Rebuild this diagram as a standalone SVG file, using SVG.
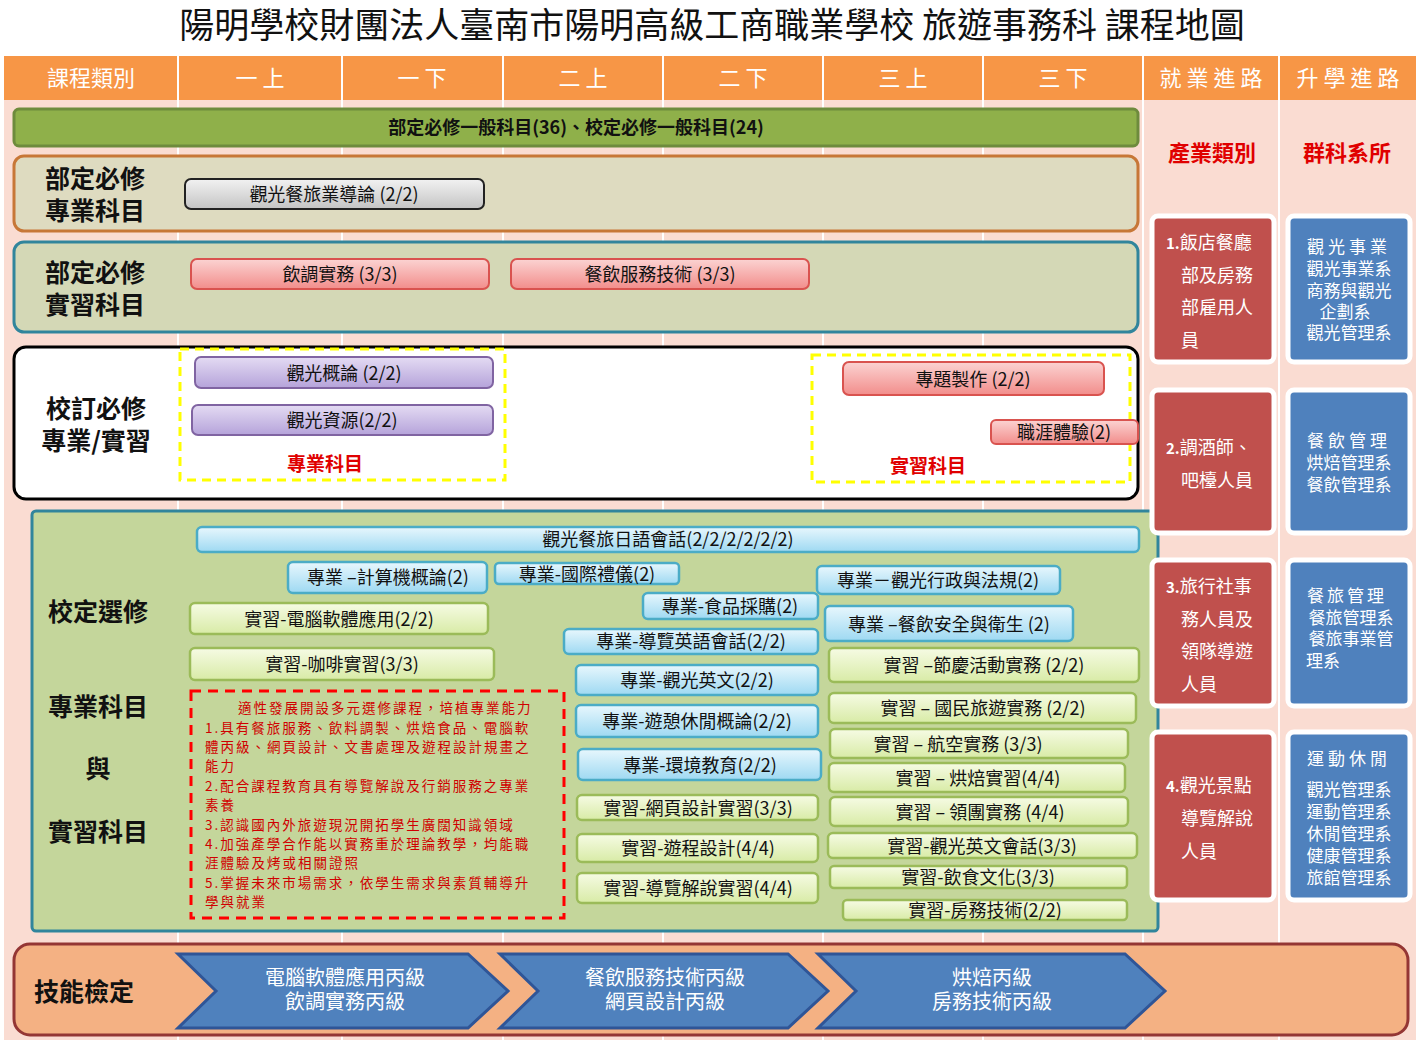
<svg xmlns="http://www.w3.org/2000/svg" width="1416" height="1040" viewBox="0 0 1416 1040">
<defs>
<linearGradient id="gBlue" x1="0" y1="0" x2="0" y2="1"><stop offset="0" stop-color="#E8F7FD"/><stop offset="1" stop-color="#9ED9F2"/></linearGradient>
<linearGradient id="gGreen" x1="0" y1="0" x2="0" y2="1"><stop offset="0" stop-color="#F6FBE4"/><stop offset="1" stop-color="#D8EBA6"/></linearGradient>
<linearGradient id="gRed" x1="0" y1="0" x2="0" y2="1"><stop offset="0" stop-color="#FBD3D2"/><stop offset="1" stop-color="#F28D8B"/></linearGradient>
<linearGradient id="gPur" x1="0" y1="0" x2="0" y2="1"><stop offset="0" stop-color="#E4DBF3"/><stop offset="1" stop-color="#B5A3DA"/></linearGradient>
<linearGradient id="gGray" x1="0" y1="0" x2="0" y2="1"><stop offset="0" stop-color="#F2F2F2"/><stop offset="1" stop-color="#C4C4C4"/></linearGradient>
</defs>
<style>
text{font-family:"Noto Sans CJK TC","Noto Sans CJK SC",sans-serif;}
.hd{fill:#fff;font-size:22px;text-anchor:middle;}
.lab{font-size:25px;font-weight:bold;text-anchor:middle;fill:#111;}
.pt{font-size:18px;text-anchor:middle;fill:#111;}
.blue rect{fill:url(#gBlue);stroke:#4BACC6;stroke-width:2.5;}
.green rect{fill:url(#gGreen);stroke:#9BBB59;stroke-width:2.5;}
.red rect{fill:url(#gRed);stroke:#D9534F;stroke-width:2;}
.pur rect{fill:url(#gPur);stroke:#8064A2;stroke-width:2;}
.rc rect{fill:#C0504D;stroke:#fff;stroke-width:5;}
.bc rect{fill:#4F81BD;stroke:#fff;stroke-width:5;}
.ct{fill:#fff;font-size:18px;}
.bt{fill:#fff;font-size:17px;text-anchor:middle;}
.note{fill:#D00000;font-size:13.5px;letter-spacing:2px;font-family:"Noto Sans CJK TC",serif;}
.chev{fill:#4F81BD;stroke:#2F5597;stroke-width:3;}
.cht{fill:#fff;font-size:20px;text-anchor:middle;}
</style>
<rect width="1416" height="1040" fill="#fff"/>
<text x="712" y="38" font-size="35" text-anchor="middle" fill="#111">陽明學校財團法人臺南市陽明高級工商職業學校 旅遊事務科 課程地圖</text>
<rect x="4" y="100" width="1412" height="940" fill="#FADCD2"/>
<g stroke="#fff" stroke-width="2">
<line x1="178" y1="100" x2="178" y2="1040"/><line x1="342" y1="100" x2="342" y2="1040"/><line x1="503" y1="100" x2="503" y2="1040"/><line x1="663" y1="100" x2="663" y2="1040"/><line x1="823" y1="100" x2="823" y2="1040"/><line x1="983" y1="100" x2="983" y2="1040"/><line x1="1143" y1="100" x2="1143" y2="1040"/><line x1="1279" y1="100" x2="1279" y2="1040"/>
</g>
<g id="header">
<rect x="4" y="56" width="1412" height="44" fill="#F79646"/>
<g stroke="#fff" stroke-width="2"><line x1="178" y1="56" x2="178" y2="100"/><line x1="342" y1="56" x2="342" y2="100"/><line x1="503" y1="56" x2="503" y2="100"/><line x1="663" y1="56" x2="663" y2="100"/><line x1="823" y1="56" x2="823" y2="100"/><line x1="983" y1="56" x2="983" y2="100"/><line x1="1143" y1="56" x2="1143" y2="100"/><line x1="1279" y1="56" x2="1279" y2="100"/></g>
<text class="hd" x="91" y="86">課程類別</text>
<text class="hd" x="260" y="86">一 上</text><text class="hd" x="422" y="86">一 下</text><text class="hd" x="583" y="86">二 上</text><text class="hd" x="743" y="86">二 下</text><text class="hd" x="903" y="86">三 上</text><text class="hd" x="1063" y="86">三 下</text>
<text class="hd" x="1211" y="86">就 業 進 路</text><text class="hd" x="1348" y="86">升 學 進 路</text>
</g>
<g id="general">
<rect x="14" y="109" width="1124" height="37" rx="5" fill="#8FB04A" stroke="#6E8B3D" stroke-width="3"/>
<text x="576" y="134" font-size="18" font-weight="bold" text-anchor="middle" fill="#111">部定必修一般科目(36)、校定必修一般科目(24)</text>
</g>
<g id="bd-prof">
<rect x="14" y="156" width="1124" height="75" rx="10" fill="#DEDBC0" stroke="#C77737" stroke-width="3"/>
<text class="lab" x="95" y="188">部定必修</text><text class="lab" x="95" y="220">專業科目</text>
<rect x="185" y="179" width="299" height="30" rx="6" fill="url(#gGray)" stroke="#222" stroke-width="2"/>
<text class="pt" x="334" y="201">觀光餐旅業導論 (2/2)</text>
</g>
<g id="bd-prac">
<rect x="14" y="242" width="1124" height="90" rx="10" fill="#D4D8B6" stroke="#31859C" stroke-width="3"/>
<text class="lab" x="95" y="282">部定必修</text><text class="lab" x="95" y="314">實習科目</text>
<g class="red"><rect x="191" y="259" width="298" height="30" rx="6"/><rect x="511" y="259" width="298" height="30" rx="6"/></g>
<text class="pt" x="340" y="281">飲調實務 (3/3)</text><text class="pt" x="660" y="281">餐飲服務技術 (3/3)</text>
</g>
<g id="xd-req">
<rect x="14" y="347" width="1124" height="152" rx="12" fill="#fff" stroke="#000" stroke-width="3"/>
<text class="lab" x="96" y="418">校訂必修</text><text class="lab" x="96" y="450">專業/實習</text>
<g fill="none" stroke="#FFFF00" stroke-width="3" stroke-dasharray="9,6"><rect x="180" y="349" width="325" height="131"/><rect x="812" y="355" width="318" height="127"/></g>
<g class="pur"><rect x="195" y="357" width="298" height="31" rx="6"/><rect x="192" y="405" width="301" height="30" rx="6"/></g>
<text class="pt" x="344" y="380">觀光概論 (2/2)</text><text class="pt" x="342" y="427">觀光資源(2/2)</text>
<g class="red"><rect x="843" y="362" width="261" height="33" rx="6"/><rect x="991" y="420" width="147" height="24" rx="5"/></g>
<text class="pt" x="973" y="386">專題製作 (2/2)</text><text class="pt" x="1064" y="439">職涯體驗(2)</text>
<text x="325" y="471" font-size="19" font-weight="bold" fill="#E00000" text-anchor="middle">專業科目</text>
<text x="928" y="473" font-size="19" font-weight="bold" fill="#E00000" text-anchor="middle">實習科目</text>
</g>
<g id="elective">
<rect x="32" y="511" width="1126" height="420" rx="4" fill="#C4D69B" stroke="#31859C" stroke-width="3"/>
<text class="lab" x="98" y="621">校定選修</text><text class="lab" x="98" y="716">專業科目</text><text class="lab" x="98" y="778">與</text><text class="lab" x="98" y="841">實習科目</text>
<g class="blue">
<rect x="197" y="527" width="942" height="25" rx="5"/>
<rect x="288" y="562" width="199" height="31" rx="5"/>
<rect x="495" y="563" width="184" height="21" rx="4"/>
<rect x="817" y="566" width="243" height="28" rx="5"/>
<rect x="643" y="593" width="175" height="26" rx="5"/>
<rect x="564" y="629" width="254" height="25" rx="5"/>
<rect x="825" y="606" width="248" height="35" rx="5"/>
<rect x="576" y="665" width="242" height="30" rx="5"/>
<rect x="576" y="705" width="242" height="32" rx="5"/>
<rect x="578" y="749" width="243" height="31" rx="5"/>
</g>
<g class="pt">
<text x="668" y="546">觀光餐旅日語會話(2/2/2/2/2/2)</text>
<text x="388" y="584">專業 –計算機概論(2)</text>
<text x="587" y="581">專業-國際禮儀(2)</text>
<text x="938" y="587">專業－觀光行政與法規(2)</text>
<text x="730" y="613">專業-食品採購(2)</text>
<text x="691" y="648">專業-導覽英語會話(2/2)</text>
<text x="949" y="631">專業 –餐飲安全與衛生 (2)</text>
<text x="697" y="687">專業-觀光英文(2/2)</text>
<text x="697" y="728">專業-遊憩休閒概論(2/2)</text>
<text x="700" y="772">專業-環境教育(2/2)</text>
</g>
<g class="green">
<rect x="190" y="603" width="298" height="31" rx="5"/>
<rect x="190" y="648" width="304" height="32" rx="5"/>
<rect x="577" y="795" width="241" height="25" rx="5"/>
<rect x="577" y="834" width="241" height="28" rx="5"/>
<rect x="577" y="873" width="241" height="30" rx="5"/>
<rect x="829" y="648" width="310" height="34" rx="5"/>
<rect x="829" y="693" width="307" height="30" rx="5"/>
<rect x="830" y="729" width="298" height="29" rx="5"/>
<rect x="829" y="763" width="296" height="29" rx="5"/>
<rect x="830" y="797" width="298" height="29" rx="5"/>
<rect x="828" y="833" width="309" height="25" rx="5"/>
<rect x="830" y="866" width="297" height="22" rx="4"/>
<rect x="843" y="900" width="284" height="20" rx="4"/>
</g>
<g class="pt">
<text x="339" y="626">實習-電腦軟體應用(2/2)</text>
<text x="342" y="671">實習-咖啡實習(3/3)</text>
<text x="698" y="815">實習-網頁設計實習(3/3)</text>
<text x="698" y="855">實習-遊程設計(4/4)</text>
<text x="698" y="895">實習-導覽解說實習(4/4)</text>
<text x="984" y="672">實習 –節慶活動實務 (2/2)</text>
<text x="983" y="715">實習 – 國民旅遊實務 (2/2)</text>
<text x="958" y="751">實習 – 航空實務 (3/3)</text>
<text x="978" y="785">實習 – 烘焙實習(4/4)</text>
<text x="980" y="819">實習 – 領團實務 (4/4)</text>
<text x="982" y="853">實習-觀光英文會話(3/3)</text>
<text x="978" y="884">實習-飲食文化(3/3)</text>
<text x="985" y="917">實習-房務技術(2/2)</text>
</g>
<rect x="191" y="691" width="373" height="227" fill="none" stroke="#FF0000" stroke-width="3" stroke-dasharray="10,7"/>
<g class="note">
<text x="238" y="713">適性發展開設多元選修課程，培植專業能力</text>
<text x="205" y="733">1.具有餐旅服務、飲料調製、烘焙食品、電腦軟</text>
<text x="205" y="752">體丙級、網頁設計、文書處理及遊程設計規畫之</text>
<text x="205" y="771">能力</text>
<text x="205" y="791">2.配合課程教育具有導覽解說及行銷服務之專業</text>
<text x="205" y="810">素養</text>
<text x="205" y="830">3.認識國內外旅遊現況開拓學生廣闊知識領域</text>
<text x="205" y="849">4.加強產學合作能以實務重於理論教學，均能職</text>
<text x="205" y="868">涯體驗及烤或相關證照</text>
<text x="205" y="888">5.掌握未來市場需求，依學生需求與素質輔導升</text>
<text x="205" y="907">學與就業</text>
</g>
</g>
<g id="career">
<text x="1212" y="161" font-size="22" font-weight="bold" fill="#E00000" text-anchor="middle">產業類別</text>
<text x="1347" y="161" font-size="22" font-weight="bold" fill="#E00000" text-anchor="middle">群科系所</text>
<g class="rc"><rect x="1152" y="216" width="122" height="146" rx="6"/><rect x="1152" y="390" width="122" height="143" rx="6"/><rect x="1152" y="560" width="122" height="146" rx="6"/><rect x="1152" y="732" width="122" height="168" rx="6"/></g>
<g class="bc"><rect x="1288" y="216" width="122" height="146" rx="6"/><rect x="1288" y="390" width="122" height="143" rx="6"/><rect x="1288" y="560" width="122" height="146" rx="6"/><rect x="1288" y="732" width="122" height="168" rx="6"/></g>
<g class="ct">
<text x="1166" y="249"><tspan font-size="15" font-weight="bold">1.</tspan>飯店餐廳</text><text x="1181" y="282">部及房務</text><text x="1181" y="314">部雇用人</text><text x="1181" y="347">員</text>
<text x="1166" y="454"><tspan font-size="15" font-weight="bold">2.</tspan>調酒師、</text><text x="1181" y="487">吧檯人員</text>
<text x="1166" y="593"><tspan font-size="15" font-weight="bold">3.</tspan>旅行社事</text><text x="1181" y="626">務人員及</text><text x="1181" y="658">領隊導遊</text><text x="1181" y="691">人員</text>
<text x="1166" y="792"><tspan font-size="15" font-weight="bold">4.</tspan>觀光景點</text><text x="1181" y="825">導覽解說</text><text x="1181" y="858">人員</text>
</g>
<g class="bt">
<text x="1349" y="253" letter-spacing="4">觀光事業</text><text x="1349" y="275">觀光事業系</text><text x="1349" y="297">商務與觀光</text><text x="1345" y="318">企劃系</text><text x="1349" y="339">觀光管理系</text>
<text x="1349" y="447" letter-spacing="4">餐飲管理</text><text x="1349" y="469">烘焙管理系</text><text x="1349" y="491">餐飲管理系</text>
<text x="1347" y="602" letter-spacing="3">餐旅管理</text><text x="1351" y="624">餐旅管理系</text><text x="1351" y="645">餐旅事業管</text><text x="1323" y="667">理系</text>
<text x="1349" y="765" letter-spacing="4">運動休閒</text><text x="1349" y="796">觀光管理系</text><text x="1349" y="818">運動管理系</text><text x="1349" y="840">休閒管理系</text><text x="1349" y="862">健康管理系</text><text x="1349" y="884">旅館管理系</text>
</g>
</g>
<g id="skills">
<rect x="14" y="944" width="1394" height="91" rx="16" fill="#F4B183" stroke="#943634" stroke-width="3"/>
<text x="84" y="1001" font-size="25" font-weight="bold" fill="#111" text-anchor="middle">技能檢定</text>
<polygon class="chev" points="178,954 468,954 508,991 468,1028 178,1028 216,991"/>
<polygon class="chev" points="500,954 788,954 828,991 788,1028 500,1028 538,991"/>
<polygon class="chev" points="818,954 1125,954 1165,991 1125,1028 818,1028 856,991"/>
<text class="cht" x="345" y="985">電腦軟體應用丙級</text><text class="cht" x="345" y="1009">飲調實務丙級</text>
<text class="cht" x="665" y="985">餐飲服務技術丙級</text><text class="cht" x="665" y="1009">網頁設計丙級</text>
<text class="cht" x="992" y="985">烘焙丙級</text><text class="cht" x="992" y="1009">房務技術丙級</text>
</g>
</svg>
